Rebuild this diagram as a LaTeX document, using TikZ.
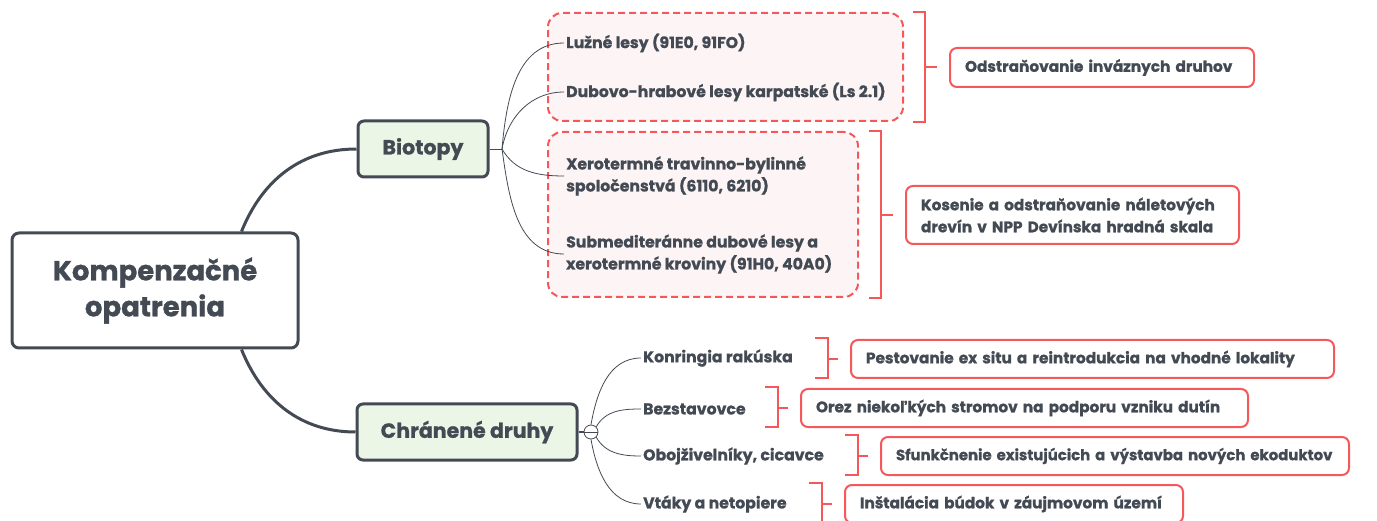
\documentclass[tikz,border=0pt]{standalone}
\usepackage{fontspec}
\setmainfont{Poppins}[BoldFeatures={FakeBold=1}]
\usetikzlibrary{shapes, arrows, positioning}

\definecolor{inkgray}{HTML}{434A54}
\definecolor{alertred}{HTML}{F4585A}
\definecolor{blush}{HTML}{FDF5F5}
\definecolor{mint}{HTML}{EBF6E6}

\begin{document}
\begin{tikzpicture}[x=1pt, y=1pt,
every node/.style={text=inkgray, font=\bfseries},
root/.style={rectangle, rounded corners=7pt, draw=inkgray, line width=3pt, fill=white,
    minimum width=286pt, minimum height=115pt, align=center, font=\bfseries\fontsize{27.5}{36}\selectfont},
topic/.style={rectangle, rounded corners=6pt, draw=inkgray, line width=3pt, fill=mint,
    minimum height=56pt, font=\bfseries\fontsize{20.5}{24}\selectfont},
group/.style={rectangle, rounded corners=14pt, draw=alertred, line width=2pt, dashed,
    dash pattern=on 7pt off 4pt, fill=blush},
item/.style={anchor=west, inner sep=2pt, align=left, font=\bfseries\fontsize{15.7}{22}\selectfont},
action/.style={rectangle, rounded corners=7pt, draw=alertred, line width=2pt, fill=white,
    anchor=west, minimum height=38pt, inner xsep=15pt, align=left,
    font=\bfseries\fontsize{15.3}{22}\selectfont},
trunk/.style={draw=inkgray, line width=3pt},
twig/.style={draw=inkgray, line width=0.8pt},
brace/.style={draw=alertred, line width=2pt}
]
\useasboundingbox (0,0) rectangle (1377,-521);

% main topics
\node [root] (root) at (155,-290.5) {Kompenzačné\\opatrenia};
\node [topic, minimum width=130pt] (bio) at (423,-149) {Biotopy};
\node [topic, minimum width=220pt] (spec) at (467,-432) {Chránené druhy};

\draw [trunk] ([xshift=-58pt]root.north east) to[out=68, in=180] (bio.west);
\draw [trunk] ([xshift=-58pt]root.south east) to[out=-68, in=180] (spec.west);

% habitats
\node [group, minimum width=355pt, minimum height=108pt] (grpA) at (725.5,-67) {};
\node [group, minimum width=310pt, minimum height=165pt] (grpB) at (703,-214.5) {};

\node [item] (hab1) at (564,-43) {Lužné lesy (91E0, 91FO)};
\node [item] (hab2) at (564,-92) {Dubovo-hrabové lesy karpatské (Ls 2.1)};
\node [item] (hab3) at (564,-176) {Xerotermné travinno-bylinné\\spoločenstvá (6110, 6210)};
\node [item] (hab4) at (564,-254) {Submediteránne dubové lesy a\\xerotermné kroviny (91H0, 40A0)};

\coordinate (hub) at (502,-149);
\draw [twig] (bio.east) -- (hub);
\draw [twig] (hub) to[out=85, in=180] (hab1.west);
\draw [twig] (hub) to[out=80, in=180] (hab2.west);
\draw [twig] (hub) to[out=-60, in=180] (hab3.west);
\draw [twig] (hub) to[out=-82, in=180] (hab4.west);

\node [action, minimum height=39pt, text width=274pt] (actA) at (949,-67.5) {\mbox{Odstraňovanie inváznych druhov}};
\node [action, minimum height=58pt, text width=303pt] (actB) at (905,-215)
    {\mbox{Kosenie a odstraňovanie náletových}\\\mbox{drevín v NPP Devínska hradná skala}};

\draw [brace] ([xshift=9pt]grpA.north east) -| ([xshift=-24pt]actA.west) |- ([xshift=9pt]grpA.south east);
\draw [brace] ([xshift=-24pt]actA.west) -- ([xshift=-12pt]actA.west);
\draw [brace] ([xshift=10pt]grpB.north east) -| ([xshift=-24pt]actB.west) |- ([xshift=10pt]grpB.south east);
\draw [brace] ([xshift=-24pt]actB.west) -- ([xshift=-12pt]actB.west);

% species
\node [circle, draw=inkgray, line width=0.8pt, fill=white, minimum size=14pt, inner sep=0pt] (fold) at (591,-432) {};
\draw [twig] (fold.west) -- (fold.east);
\draw [trunk, line width=2pt] (spec.east) -- (fold.west);

\node [item] (sp1) at (641,-358) {Konringia rakúska};
\node [item] (sp2) at (641,-409) {Bezstavovce};
\node [item] (sp3) at (641,-456) {Obojživelníky, cicavce};
\node [item] (sp4) at (641,-504) {Vtáky a netopiere};

\draw [twig] (fold.north) to[out=80, in=180] (sp1.west);
\draw [twig] (fold.north east) to[out=60, in=180] (sp2.west);
\draw [twig] (fold.south east) to[out=-60, in=180] (sp3.west);
\draw [twig] (fold.south) to[out=-80, in=180] (sp4.west);

\node [action, text width=453pt] (act1) at (850,-359) {\mbox{Pestovanie ex situ a reintrodukcia na vhodné lokality}};
\node [action, text width=417pt] (act2) at (800,-408) {\mbox{Orez niekoľkých stromov na podporu vzniku dutín}};
\node [action, text width=438pt, font=\bfseries\fontsize{14.9}{22}\selectfont] (act3) at (880,-456) {\mbox{Sfunkčnenie existujúcich a výstavba nových ekoduktov}};
\node [action, text width=308pt] (act4) at (844,-504) {\mbox{Inštalácia búdok v záujmovom území}};

\draw [brace] ([xshift=-35pt,yshift=1pt]act1.north west) -- ++(13,0) -- ([xshift=-22pt,yshift=1pt]act1.south west) -- ++(-13,0);
\draw [brace] ([xshift=-22pt]act1.west) -- ([xshift=-12pt]act1.west);
\draw [brace] ([xshift=-35pt,yshift=1pt]act2.north west) -- ++(13,0) -- ([xshift=-22pt,yshift=1pt]act2.south west) -- ++(-13,0);
\draw [brace] ([xshift=-22pt]act2.west) -- ([xshift=-12pt]act2.west);
\draw [brace] ([xshift=-35pt,yshift=1pt]act3.north west) -- ++(13,0) -- ([xshift=-22pt,yshift=1pt]act3.south west) -- ++(-13,0);
\draw [brace] ([xshift=-22pt]act3.west) -- ([xshift=-12pt]act3.west);
\draw [brace] ([xshift=-35pt,yshift=1pt]act4.north west) -- ++(13,0) -- ([xshift=-22pt,yshift=1pt]act4.south west) -- ++(-13,0);
\draw [brace] ([xshift=-22pt]act4.west) -- ([xshift=-12pt]act4.west);
\end{tikzpicture}
\end{document}
